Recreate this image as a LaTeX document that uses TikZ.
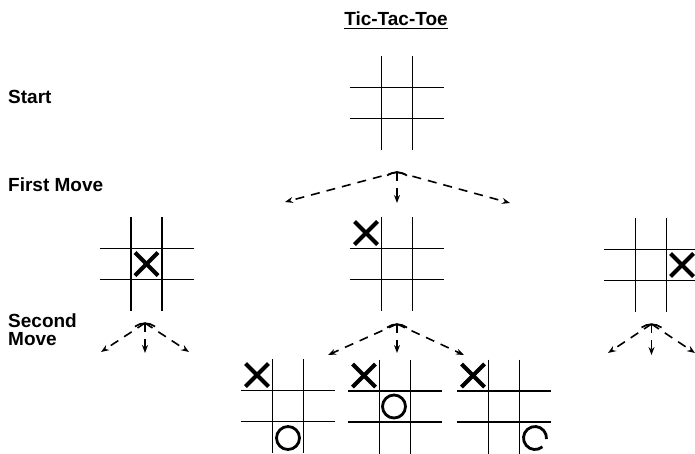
\documentclass[tikz,border=0pt]{standalone}
\usepackage{fontspec}
\setmainfont{Liberation Sans}
\usetikzlibrary{arrows.meta}
\tikzset{
  boardnode/.style={draw=none, minimum size=94pt, inner sep=0pt, outer sep=0pt},
  gridline/.style={line width=1.8pt},
  xstroke/.style={line width=4pt},
  ostroke/.style={line width=2.8pt},
  fanline/.style={line width=1.6pt, dash pattern=on 9pt off 7pt, -{Stealth[length=8pt,width=6pt]}},
  archline/.style={line width=1.7pt},
  lbl/.style={inner sep=0pt, font=\bfseries\fontsize{19}{17.5}\selectfont},
}
\newcommand\drawboard[1]{%
  \draw[gridline] ([xshift=-15.5pt]#1.north) -- ([xshift=-15.5pt]#1.south);
  \draw[gridline] ([xshift=15.5pt]#1.north) -- ([xshift=15.5pt]#1.south);
  \draw[gridline] ([yshift=15.5pt]#1.west) -- ([yshift=15.5pt]#1.east);
  \draw[gridline] ([yshift=-15.5pt]#1.west) -- ([yshift=-15.5pt]#1.east);}
% #1 board, #2 dx, #3 dy (screen, y down)
\newcommand\xmark[3]{%
  \draw[xstroke] ([shift={(#2-11.5,#3-11.5)}]#1.center) -- ([shift={(#2+11.5,#3+11.5)}]#1.center);
  \draw[xstroke] ([shift={(#2-11.5,#3+11.5)}]#1.center) -- ([shift={(#2+11.5,#3-11.5)}]#1.center);}
\newcommand\arch[1]{%
  \draw[archline] ([shift={(-10,3.5)}]#1) .. controls ([shift={(-4,-0.8)}]#1) and ([shift={(4,-0.8)}]#1) .. ([shift={(10,3.5)}]#1);}
\begin{document}
\begin{tikzpicture}[x=1pt,y=-1pt]
\useasboundingbox (0,0) rectangle (695,453);
\clip (0,0) rectangle (695,453);
% labels
\node[lbl, anchor=base] (title) at (396,25) {Tic-Tac-Toe};
\draw[line width=1.5pt] ([yshift=-3.6pt]title.base west) -- ([yshift=-3.6pt]title.base east);
\node[lbl, anchor=base west] (lstart) at (8,103) {Start};
\node[lbl, anchor=base west] (lfirst) at (8,191) {First Move};
\node[lbl, anchor=base west, align=left] (lsecond) at (8,345) {Second\\Move};
% boards
\node[boardnode] (b0) at (397,103) {};
\node[boardnode] (b1) at (146.5,264) {};
\node[boardnode] (b2) at (397,264) {};
\node[boardnode] (b3) at (651,265) {};
\node[boardnode] (b4) at (288,406) {};
\node[boardnode] (b5) at (395,406.5) {};
\node[boardnode] (b6) at (504,406.5) {};
\foreach \b in {b0,b1,b2,b3,b4,b5,b6} {\drawboard{\b}}
% marks
\xmark{b1}{0}{0}
\xmark{b2}{-31}{-31}
\xmark{b3}{31}{0}
\xmark{b4}{-31}{-31}
\xmark{b5}{-31}{-31}
\xmark{b6}{-31}{-31}
\node[circle, draw, ostroke, minimum size=23pt, inner sep=0pt] (o4) at (288,438) {};
\node[circle, draw, ostroke, minimum size=23pt, inner sep=0pt] (o5) at (394,406.5) {};
\coordinate (o6) at (535,438);
\draw[ostroke] (o6) ++(50:11.5) arc[start angle=50, end angle=365, radius=11.5];
% fans
\coordinate (f1) at (397,172);
\coordinate (f1l) at (285,202);
\coordinate (f1d) at (397,203);
\coordinate (f1r) at (510,203);
\coordinate (f2) at (145,323);
\coordinate (f2l) at (101,352);
\coordinate (f2d) at (145,353);
\coordinate (f2r) at (189,352);
\coordinate (f3) at (397,324);
\coordinate (f3l) at (328,355);
\coordinate (f3d) at (397,353);
\coordinate (f3r) at (464,355);
\coordinate (f4) at (651.5,324);
\coordinate (f4l) at (608,353);
\coordinate (f4d) at (651.5,355);
\coordinate (f4r) at (695,353);
\foreach \f in {f1,f2,f3,f4} {
  \arch{\f}
  \draw[fanline] (\f) -- (\f l);
  \draw[fanline] (\f) -- (\f d);
  \draw[fanline] (\f) -- (\f r);
}
\end{tikzpicture}
\end{document}
